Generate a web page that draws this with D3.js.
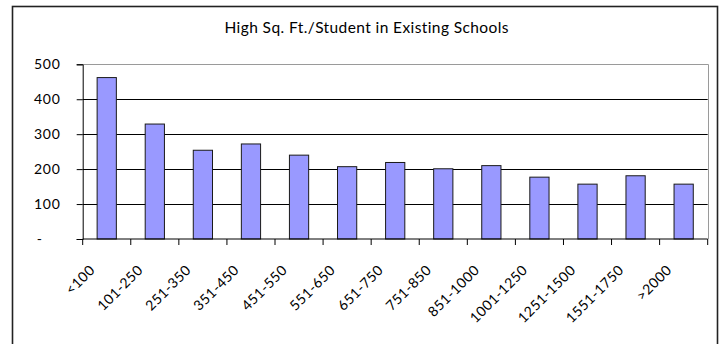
<!DOCTYPE html>
<html>
<head>
<meta charset="utf-8">
<script src="https://cdn.jsdelivr.net/npm/d3@7"></script>
<style>
  html, body { margin: 0; padding: 0; background: #fff; }
  svg { display: block; }
  text { font-family: Lato, "Open Sans", sans-serif; fill: #000; }
</style>
</head>
<body>
<svg id="chart" width="720" height="344"></svg>
<script>
// Square-foot ranges and the high sq. ft. per student in each
const categories = ["<100", "101-250", "251-350", "351-450", "451-550", "551-650",
  "651-750", "751-850", "851-1000", "1001-1250", "1251-1500", "1551-1750", ">2000"];
const values = [462, 329, 254, 272, 240, 207, 219, 201, 210, 177, 157, 181, 157];
const yTicks = [0, 100, 200, 300, 400, 500];
const title = "High Sq. Ft./Student in Existing Schools";

const svg = d3.select("#chart");
const plot = { left: 82.7, right: 707.7, top: 64.3, bottom: 239 };

// outer chart frame
svg.append("rect")
  .attr("x", 12.5).attr("y", 6.5)
  .attr("width", 705).attr("height", 420)
  .attr("fill", "none").attr("stroke", "#222").attr("stroke-width", 1.6);

svg.append("text")
  .attr("x", 366.7).attr("y", 33.3)
  .attr("text-anchor", "middle")
  .style("font-size", "15.5px")
  .style("letter-spacing", "0.4px")
  .text(title);

const y = d3.scaleLinear().domain([0, 500]).range([plot.bottom, plot.top]);
// slots for category ticks, and narrower bands for the bars inside them
const xSlot = d3.scaleBand().domain(categories).range([plot.left, plot.right]).padding(0);
const x = d3.scaleBand().domain(categories).range([plot.left, plot.right])
  .paddingInner(0.6).paddingOuter(0.3);

// horizontal gridlines
svg.append("g").selectAll("line")
  .data(yTicks.filter(t => t > 0 && t < 500))
  .join("line")
  .attr("x1", plot.left).attr("x2", plot.right)
  .attr("y1", d => Math.round(y(d)) + 0.5).attr("y2", d => Math.round(y(d)) + 0.5)
  .attr("stroke", "#000").attr("stroke-width", 1);

// plot area border (top and right)
svg.append("path")
  .attr("d", `M${plot.left},${Math.round(plot.top) + 0.5}H${Math.round(plot.right) + 0.5}V${plot.bottom}`)
  .attr("fill", "none").attr("stroke", "#9a9a9a").attr("stroke-width", 1);

// bars
svg.append("g").selectAll("rect")
  .data(categories.map((c, i) => ({ c, v: values[i] })))
  .join("rect")
  .attr("x", d => x(d.c))
  .attr("y", d => y(d.v))
  .attr("width", x.bandwidth())
  .attr("height", d => y(0) - y(d.v))
  .attr("fill", "#9999ff")
  .attr("stroke", "#1a1a1a").attr("stroke-width", 1);

// y axis
const yAxis = d3.axisLeft(y).tickValues(yTicks).tickSize(6).tickPadding(16)
  .tickFormat(d => d === 0 ? "-" : d3.format("d")(d));
const gy = svg.append("g").attr("transform", `translate(${plot.left},0)`).call(yAxis);
gy.select(".domain").attr("stroke", "#000");
gy.selectAll(".tick line").attr("stroke", "#000");
gy.selectAll(".tick text")
  .style("font-size", "14px")
  .style("letter-spacing", "0.8px")
  .style("font-family", "Lato, sans-serif")
  .attr("fill", "#000")
  .attr("dx", d => d === 0 ? -18 : 0);

// x axis baseline and ticks at slot boundaries
svg.append("line")
  .attr("x1", plot.left).attr("x2", plot.right)
  .attr("y1", plot.bottom).attr("y2", plot.bottom)
  .attr("stroke", "#000");
const bounds = categories.map(c => xSlot(c)).concat([xSlot.range()[1]]);
svg.append("g").selectAll("line")
  .data(bounds)
  .join("line")
  .attr("x1", d => d).attr("x2", d => d)
  .attr("y1", plot.bottom).attr("y2", plot.bottom + 6)
  .attr("stroke", "#000");

// rotated category labels
svg.append("g").selectAll("text")
  .data(categories)
  .join("text")
  .attr("text-anchor", "end")
  .attr("transform", d => `translate(${xSlot(d) + xSlot.bandwidth() / 2 - 11},271) rotate(-45)`)
  .style("font-size", "14px")
  .style("letter-spacing", "0.5px")
  .text(d => d);
</script>
</body>
</html>
